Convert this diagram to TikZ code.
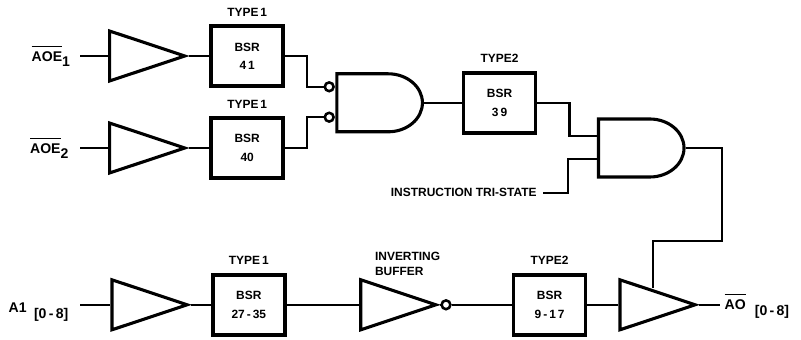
\documentclass[tikz,border=0pt]{standalone}
\usepackage{amsmath}
\usepackage{fontspec}
\setmainfont{Liberation Sans}
\usetikzlibrary{shapes,arrows,shapes.gates.logic.US}
\usetikzlibrary{positioning}
\newcommand{\lbl}{\fontsize{8.5}{11}\bfseries\selectfont}
\newcommand{\barred}[1]{\overline{\mbox{\rule{0pt}{9.5pt}#1}}}
\tikzstyle{block} = [
	draw,
	line width=2.6pt,
	minimum width=1.8cm,
	minimum height=1.5cm,
	align=center,
	font=\lbl
]
\tikzstyle{input} = [coordinate]
\tikzstyle{output} = [coordinate]
\tikzstyle{buffer} = [
	isosceles triangle,
	isosceles triangle stretches,
	draw,
	line width=2.2pt,
	inner sep=0pt,
	minimum width=1.25cm,
	minimum height=1.88cm
]
\tikzstyle{gate} = [
	and gate US,
	draw,
	line width=2.2pt,
	logic gate inputs=nn,
	xscale=1.18,
	transform shape,
	minimum height=1.45cm
]
\tikzstyle{bubble} = [
	circle,
	draw,
	line width=1.8pt,
	inner sep=0pt,
	minimum size=0.22cm
]
\tikzstyle{wire} = [line width=1.8pt]
\tikzstyle{tag} = [inner sep=0pt, font=\lbl]
\tikzstyle{index} = [inner sep=0pt, font=\fontsize{10}{12}\bfseries\selectfont]

\begin{document}
\begin{tikzpicture}[auto, node distance=2cm]
	\useasboundingbox (0,0) rectangle (20.025,-8.5);
	\node [input, name=inA] at (2,-1.4) {};
	\node [buffer, right of=inA, node distance=1.19cm, name=bufA] {};
	\node [block, right of=bufA, node distance=2.99cm, name=bsrA] {BSR\\[2pt]4\,1};
	\node [input, name=inB] at (2,-3.7) {};
	\node [buffer, right of=inB, node distance=1.19cm, name=bufB] {};
	\node [block, right of=bufB, node distance=2.99cm, name=bsrB] {BSR\\[2pt]40};
	\node [gate, name=andA] at (9.42,-2.57) {};
	\node [bubble, name=bubA] at (8.23,-2.17) {};
	\node [bubble, name=bubB] at (8.23,-2.93) {};
	\node [block, right of=andA, node distance=3.07cm, name=bsrC] {BSR\\[2pt]3\,9};
	\node [gate, name=andB] at (15.96,-3.7) {};
	\node [input, name=inD] at (14.975,-3.4) {};
	\node [input, name=inE] at (14.975,-3.98) {};
	\node [input, name=inC] at (2,-7.62) {};
	\node [buffer, right of=inC, node distance=1.25cm, name=bufC] {};
	\node [block, right of=bufC, node distance=2.97cm, name=bsrD] {BSR\\[2pt]27\,-\,35};
	\node [buffer, right of=bsrD, node distance=3.25cm, name=bufD] {};
	\node [bubble, name=bub] at (11.15,-7.62) {};
	\node [block, right of=bub, node distance=2.59cm, name=bsrE] {BSR\\[2pt]9\,-\,1\,7};
	\node [buffer, right of=bsrE, node distance=2.21cm, name=bufE] {};
	\node [output, name=outE, right of=bufE, node distance=2.05cm] {};
	\node [input, name=inInstr] at (13.58,-4.82) {};
	\node [output, name=tap] at (16.33,-7.2) {};

	\node [index, name=tagA, left of=inA, node distance=0.72cm] {$\barred{AOE}_{\mbox{1}}$};
	\node [index, name=tagB, left of=inB, node distance=0.76cm] {$\barred{AOE}_{\mbox{2}}$};
	\node [index, name=tagC] at (0.44,-7.7) {A1};
	\node [index, name=tagD] at (1.28,-7.88) {[0\,-\,8]};
	\node [index, name=tagE] at (18.38,-7.54) {$\barred{AO}$};
	\node [index, name=tagF] at (19.3,-7.8) {[0\,-\,8]};
	\node [tag, above of=bsrA, node distance=1.1cm] {TYPE\,1};
	\node [tag, above of=bsrB, node distance=1.1cm] {TYPE\,1};
	\node [tag, above of=bsrC, node distance=1.1cm] {TYPE2};
	\node [tag, above of=bsrD, node distance=1.1cm] {TYPE\,1};
	\node [tag, above of=bsrE, node distance=1.1cm] {TYPE2};
	\node [tag, align=left, anchor=west] at (9.37,-6.6) {INVERTING\\BUFFER};
	\node [tag, anchor=east] at (13.42,-4.82) {INSTRUCTION TRI-STATE};

	\draw[wire] (inA) -- (bufA.west);
	\draw[wire] (bufA.east) -- (bsrA.west);
	\draw[wire] (inB) -- (bufB.west);
	\draw[wire] (bufB.east) -- (bsrB.west);
	\draw[wire] (bsrA.east) -- ++(0.55,0) |- (bubA.west);
	\draw[wire] (bsrB.east) -- ++(0.55,0) |- (bubB.west);
	\draw[wire] (andA.output) -- (bsrC.west);
	\draw[wire] (bsrC.east) -- ++(0.8,0) |- (inD);
	\draw[wire] (inInstr) -- ++(0.62,0) |- (inE);
	\draw[wire] (inC) -- (bufC.west);
	\draw[wire] (bufC.east) -- (bsrD.west);
	\draw[wire] (bsrD.east) -- (bufD.west);
	\draw[wire] (bufD.east) -- (bub.west);
	\draw[wire] (bub.east) -- (bsrE.west);
	\draw[wire] (bsrE.east) -- (bufE.west);
	\draw[wire] (bufE.east) -- (outE);
	\draw[wire] (andB.output) -| (18.05,-6.03) -| (tap);
\end{tikzpicture}
\end{document}
